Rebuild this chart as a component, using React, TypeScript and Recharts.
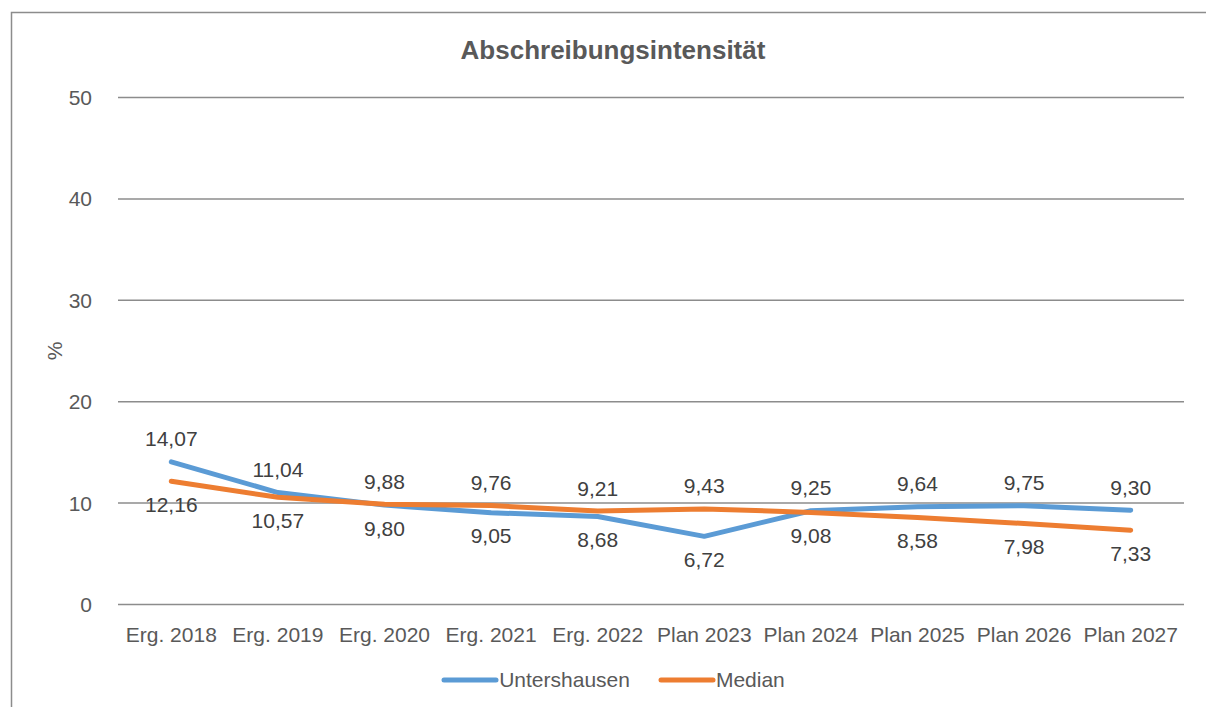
import React from 'react';
import { CartesianGrid, LabelList, Legend, Line, LineChart, XAxis, YAxis } from 'recharts';

const categories = [
  'Erg. 2018',
  'Erg. 2019',
  'Erg. 2020',
  'Erg. 2021',
  'Erg. 2022',
  'Plan 2023',
  'Plan 2024',
  'Plan 2025',
  'Plan 2026',
  'Plan 2027',
];
const untershausen = [14.07, 11.04, 9.8, 9.05, 8.68, 6.72, 9.25, 9.64, 9.75, 9.3];
const median = [12.16, 10.57, 9.88, 9.76, 9.21, 9.43, 9.08, 8.58, 7.98, 7.33];
const yTicks = [0, 10, 20, 30, 40, 50];

const BLUE = '#5B9BD5';
const ORANGE = '#ED7D31';
const FONT = '"Liberation Sans", Arial, sans-serif';

const data = categories.map((c, i) => ({
  name: c,
  untershausen: untershausen[i],
  median: median[i],
}));

const fmt = (v: number) => v.toFixed(2).replace('.', ',');

// label above the point when this series is the higher one, below otherwise
const makeLabel = (own: number[], other: number[]) => (props: any) => {
  const { x, y, index } = props;
  const above = own[index] >= other[index];
  return (
    <text
      x={x}
      y={y + (above ? -23 : 23)}
      dy="0.36em"
      textAnchor="middle"
      fontSize={21}
      fontFamily={FONT}
      fill="#404040"
    >
      {fmt(own[index])}
    </text>
  );
};

const legendItems = [
  { label: 'Untershausen', color: BLUE },
  { label: 'Median', color: ORANGE },
];

function LegendContent() {
  return (
    <div style={{ display: 'flex', justifyContent: 'center', gap: 28, fontFamily: FONT }}>
      {legendItems.map((it) => (
        <div key={it.label} style={{ display: 'flex', alignItems: 'center' }}>
          <svg width={58} height={10}>
            <line x1={3} y1={5} x2={55} y2={5} stroke={it.color} strokeWidth={5} strokeLinecap="round" />
          </svg>
          <span style={{ fontSize: 21, color: '#595959', lineHeight: '24px' }}>{it.label}</span>
        </div>
      ))}
    </div>
  );
}

export default function App() {
  return (
    <div style={{ position: 'fixed', left: 0, top: 0, width: 1206, height: 707, background: '#fff', overflow: 'hidden' }}>
      <svg width={1206} height={707} style={{ position: 'absolute', left: 0, top: 0 }}>
        <polyline points="11.5,707 11.5,12.5 1206,12.5" fill="none" stroke="#8c8c8c" strokeWidth={1.5} />
      </svg>
      <div
        style={{
          position: 'absolute',
          left: 0,
          width: 1226,
          top: 35,
          textAlign: 'center',
          fontFamily: FONT,
          fontWeight: 'bold',
          fontSize: 26,
          lineHeight: '30px',
          color: '#595959',
        }}
      >
        Abschreibungsintensität
      </div>
      <div
        style={{
          position: 'absolute',
          left: 55,
          top: 351,
          transform: 'translate(-50%, -50%) rotate(-90deg)',
          fontFamily: FONT,
          fontSize: 21,
          color: '#595959',
        }}
      >
        %
      </div>
      <LineChart
        width={1206}
        height={707}
        data={data}
        margin={{ top: 97.5, right: 22, left: 0, bottom: 0 }}
        style={{ position: 'absolute', left: 0, top: 0 }}
      >
        <CartesianGrid vertical={false} stroke="#8c8c8c" strokeWidth={1.5} />
        <XAxis
          dataKey="name"
          height={102.5}
          padding={{ left: 53.3, right: 53.3 }}
          axisLine={false}
          tickLine={false}
          tickMargin={17}
          interval={0}
          tick={{ fontSize: 21, fill: '#595959', fontFamily: FONT }}
        />
        <YAxis
          width={118}
          domain={[0, 50]}
          ticks={yTicks}
          axisLine={false}
          tickLine={false}
          tickMargin={20}
          tick={{ fontSize: 21, fill: '#595959', fontFamily: FONT }}
        />
        <Legend
          verticalAlign="middle"
          layout="horizontal"
          align="center"
          content={<LegendContent />}
          wrapperStyle={{ top: 668, left: 10, width: 1206, height: 24 }}
        />
        <Line
          dataKey="untershausen"
          stroke={BLUE}
          strokeWidth={5}
          strokeLinecap="round"
          strokeLinejoin="round"
          dot={false}
          activeDot={false}
          isAnimationActive={false}
        >
          <LabelList content={makeLabel(untershausen, median)} />
        </Line>
        <Line
          dataKey="median"
          stroke={ORANGE}
          strokeWidth={5}
          strokeLinecap="round"
          strokeLinejoin="round"
          dot={false}
          activeDot={false}
          isAnimationActive={false}
        >
          <LabelList content={makeLabel(median, untershausen)} />
        </Line>
      </LineChart>
    </div>
  );
}
